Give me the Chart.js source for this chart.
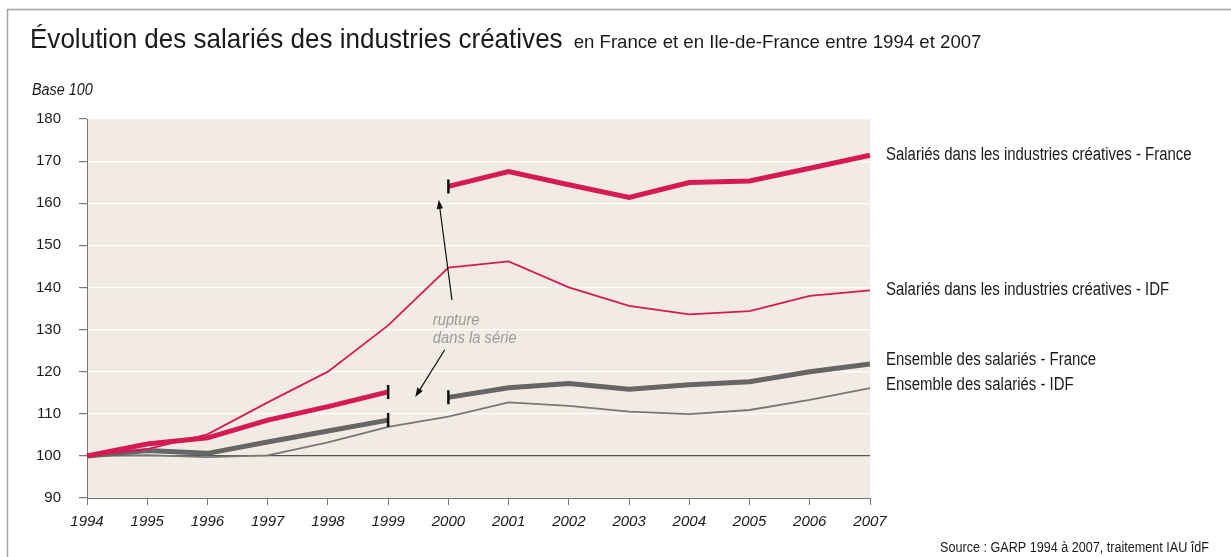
<!DOCTYPE html>
<html lang="fr">
<head>
<meta charset="utf-8">
<title>Évolution des salariés des industries créatives</title>
<script src="https://cdn.jsdelivr.net/npm/chart.js@4/dist/chart.umd.min.js"></script>
<style>
  html, body { margin: 0; padding: 0; background: #fff; }
  #wrap { position: relative; width: 1231px; height: 557px; }
</style>
</head>
<body>
<div id="wrap"><canvas id="chart"></canvas></div>
<script>
// Base 100 en 1994
const years = ['1994', '1995', '1996', '1997', '1998', '1999', '2000',
               '2001', '2002', '2003', '2004', '2005', '2006', '2007'];
const creaFrance = [100, 102.8, 104.3, 108.5, 111.7, 115.2, 164.0, 167.5, 164.4, 161.4, 164.9, 165.3, 168.3, 171.4];
const creaIdf    = [100, 101.6, 105.1, 112.7, 120.0, 131.0, 144.7, 146.2, 140.0, 135.6, 133.6, 134.4, 138.0, 139.3];
const totFrance  = [100, 101.3, 100.6, 103.3, 105.9, 108.5, 113.9, 116.2, 117.2, 115.8, 116.9, 117.6, 120.0, 121.8];
const totIdf     = [100, 100.2, 99.7, 100.1, 103.2, 106.9, 109.3, 112.7, 111.9, 110.5, 109.9, 110.9, 113.3, 116.1];
const seriesNames = [
  'Salariés dans les industries créatives - France',
  'Salariés dans les industries créatives - IDF',
  'Ensemble des salariés - France',
  'Ensemble des salariés - IDF'
];
const yTicks = [90, 100, 110, 120, 130, 140, 150, 160, 170, 180];
const breakIndex = 5; // rupture de série entre 1999 et 2000

const RED = '#d51a55';
const GREY_DARK = '#666666';
const GREY = '#777777';
const SANS = "'Liberation Sans', Arial, sans-serif";

// texte légèrement condensé (police type Helvetica Condensed)
function drawText(ctx, s, x, y, size, opt) {
  opt = opt || {};
  ctx.save();
  ctx.font = (opt.italic ? 'italic ' : '') + size + 'px ' + SANS;
  ctx.fillStyle = opt.color || '#1a1a1a';
  ctx.textAlign = opt.align || 'left';
  ctx.textBaseline = opt.baseline || 'alphabetic';
  ctx.translate(x, y);
  ctx.scale(opt.sx || 0.88, 1);
  ctx.fillText(s, 0, 0);
  const w = ctx.measureText(s).width * (opt.sx || 0.88);
  ctx.restore();
  return w;
}

function arrow(ctx, x0, y0, x1, y1) {
  const a = Math.atan2(y1 - y0, x1 - x0);
  const len = 9, half = 3.2;
  ctx.save();
  ctx.strokeStyle = '#111';
  ctx.fillStyle = '#111';
  ctx.lineWidth = 1.2;
  ctx.beginPath();
  ctx.moveTo(x0, y0);
  ctx.lineTo(x1 - Math.cos(a) * len * 0.8, y1 - Math.sin(a) * len * 0.8);
  ctx.stroke();
  ctx.beginPath();
  ctx.moveTo(x1, y1);
  ctx.lineTo(x1 - Math.cos(a) * len + Math.sin(a) * half, y1 - Math.sin(a) * len - Math.cos(a) * half);
  ctx.lineTo(x1 - Math.cos(a) * len - Math.sin(a) * half, y1 - Math.sin(a) * len + Math.cos(a) * half);
  ctx.closePath();
  ctx.fill();
  ctx.restore();
}

const decor = {
  id: 'decor',
  beforeDraw(chart) {
    const { ctx, chartArea: a, width, height } = chart;
    ctx.save();
    ctx.fillStyle = '#fff';
    ctx.fillRect(0, 0, width, height);
    // cadre
    ctx.strokeStyle = '#a3a3a3';
    ctx.lineWidth = 1.5;
    ctx.beginPath();
    ctx.moveTo(7.5, height);
    ctx.lineTo(7.5, 9.5);
    ctx.lineTo(width, 9.5);
    ctx.stroke();
    // fond de la zone de tracé
    ctx.fillStyle = '#f2ebe3';
    ctx.fillRect(a.left, a.top, a.right - a.left, a.bottom - a.top);
    ctx.restore();

    const w = drawText(ctx, 'Évolution des salariés des industries créatives', 30, 48, 28, { sx: 0.93 });
    drawText(ctx, 'en France et en Ile-de-France entre 1994 et 2007', 30 + w + 11, 48, 19, { sx: 0.98 });
    drawText(ctx, 'Base 100', 32, 95, 16, { italic: true, sx: 0.9 });
    drawText(ctx, 'Source : GARP 1994 à 2007, traitement IAU îdF', 1209, 552, 14, { align: 'right', sx: 0.9 });
  },
  afterDatasetsDraw(chart) {
    const { ctx, chartArea: a } = chart;
    const xs = chart.scales.x, ys = chart.scales.y;
    // étiquettes des séries, à droite du dernier point
    chart.data.datasets.forEach((ds, i) => {
      const pts = chart.getDatasetMeta(i).data;
      const last = pts[pts.length - 1];
      drawText(ctx, seriesNames[i], a.right + 16, last.y + (ds.labelDy || 0), 18, { baseline: 'middle', sx: 0.83 });
    });
    // annotation de la rupture
    const px = v => xs.getPixelForValue(v);
    const py = v => ys.getPixelForValue(v);
    drawText(ctx, 'rupture', px(5.74), py(131.1), 17, { italic: true, color: '#9a9a9a', sx: 0.87 });
    drawText(ctx, 'dans la série', px(5.74), py(126.9), 17, { italic: true, color: '#9a9a9a', sx: 0.87 });
    arrow(ctx, px(6.06), py(137.0), px(5.84), py(160.8));
    arrow(ctx, px(5.94), py(125.2), px(5.45), py(114.0));
  }
};

// trait invisible entre 1999 et 2000 pour les séries avec rupture
const gap = ctx => ctx.p0DataIndex === breakIndex ? 'rgba(0,0,0,0)' : undefined;
const capRadius = ctx => (ctx.dataIndex === breakIndex || ctx.dataIndex === breakIndex + 1) ? 7 : 0;

new Chart(document.getElementById('chart'), {
  type: 'line',
  data: {
    labels: years,
    datasets: [
      { data: creaFrance, borderColor: RED, borderWidth: 5, segment: { borderColor: gap },
        pointStyle: 'line', pointRotation: 90, pointRadius: capRadius, pointBorderColor: '#111', pointBorderWidth: 2.5 },
      { data: creaIdf, borderColor: RED, borderWidth: 1.8, pointRadius: 0 },
      { data: totFrance, borderColor: GREY_DARK, borderWidth: 5, segment: { borderColor: gap }, labelDy: -4,
        pointStyle: 'line', pointRotation: 90, pointRadius: capRadius, pointBorderColor: '#111', pointBorderWidth: 2.5 },
      { data: totIdf, borderColor: GREY, borderWidth: 1.8, pointRadius: 0, labelDy: -3 }
    ]
  },
  options: {
    responsive: true,
    maintainAspectRatio: false,
    animation: false,
    events: [],
    elements: { line: { tension: 0, borderCapStyle: 'butt', borderJoinStyle: 'miter' } },
    layout: { padding: { left: 7, top: 119, right: 361, bottom: 19 } },
    plugins: { legend: { display: false }, tooltip: { enabled: false } },
    scales: {
      x: {
        offset: false,
        grid: { drawOnChartArea: false, tickLength: 7, tickColor: '#777', tickWidth: 1 },
        border: { color: '#777', width: 1 },
        ticks: { autoSkip: false, maxRotation: 0, padding: 8, color: '#1a1a1a',
                 font: { family: SANS, size: 15, style: 'italic' } },
        afterFit: s => { s.height = 40; }
      },
      y: {
        min: 90,
        max: 180,
        afterBuildTicks: s => { s.ticks = yTicks.map(v => ({ value: v })); },
        grid: {
          color: c => c.tick.value === 100 ? '#555' : (c.tick.value === 90 ? 'rgba(0,0,0,0)' : '#ffffff'),
          lineWidth: c => c.tick.value === 100 ? 1.3 : 1.2,
          tickLength: 8, tickColor: '#777'
        },
        border: { color: '#777', width: 1 },
        ticks: { padding: 18, color: '#1a1a1a', font: { family: SANS, size: 15 } },
        afterFit: s => { s.width = 80; }
      }
    }
  },
  plugins: [decor]
});
</script>
</body>
</html>
